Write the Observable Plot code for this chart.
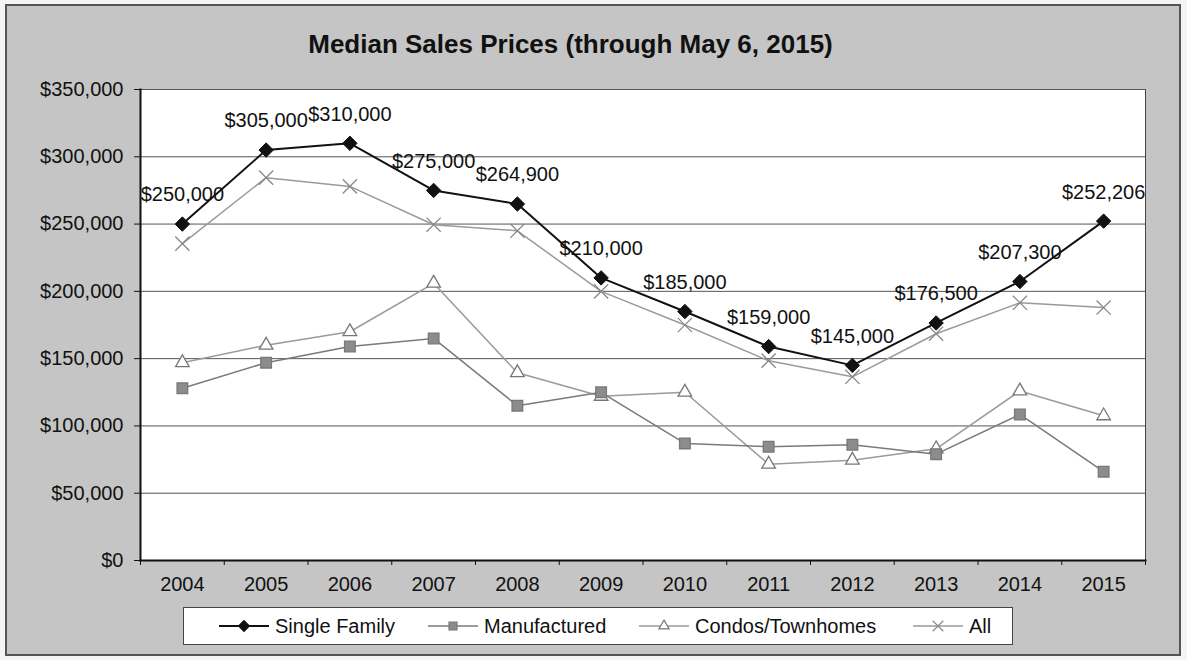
<!DOCTYPE html>
<html>
<head>
<meta charset="utf-8">
<script src="https://cdn.jsdelivr.net/npm/d3@7"></script>
<script src="https://cdn.jsdelivr.net/npm/@observablehq/plot@0.6"></script>
<style>
  html, body { margin: 0; padding: 0; background: #f4f4f4; }
  #chart { position: relative; width: 1187px; height: 660px; font-family: Arial, "Liberation Sans", sans-serif; color: #111; }
  #bg { position: absolute; left: 5px; top: 4px; width: 1176px; height: 652px; background: #c5c5c5; border: 2px solid #555; box-sizing: border-box; }
  #title { position: absolute; left: 0; top: 29px; width: 1141px; text-align: center; font-weight: bold; font-size: 26px; line-height: 30px; }
  #plot { position: absolute; left: 0; top: 70px; }
  #legend { position: absolute; left: 183px; top: 607px; width: 830px; height: 38px; background: #fff; border: 1px solid #444; box-sizing: border-box; }
  .item { position: absolute; top: 0; height: 36px; display: flex; align-items: center; font-size: 20px; }
  .item svg { margin-right: 6px; }
</style>
</head>
<body>
<div id="chart">
  <div id="bg"></div>
  <div id="title">Median Sales Prices (through May 6, 2015)</div>
  <div id="plot"></div>
  <div id="legend"></div>
</div>
<script>
const years = [2004, 2005, 2006, 2007, 2008, 2009, 2010, 2011, 2012, 2013, 2014, 2015];
const singleFamily = [250000, 305000, 310000, 275000, 264900, 210000, 185000, 159000, 145000, 176500, 207300, 252206];
const manufactured = [128000, 147000, 159000, 165000, 115000, 125000, 87000, 84500, 86000, 79000, 108500, 66000];
const condos = [147000, 160000, 170000, 206000, 139500, 122000, 125000, 71500, 74500, 83000, 126000, 107500];
const allHomes = [235500, 284500, 278000, 249500, 245000, 200000, 175000, 148500, 136500, 168500, 191500, 188000];
const seriesNames = ["Single Family", "Manufactured", "Condos/Townhomes", "All"];
const yTicks = [0, 50000, 100000, 150000, 200000, 250000, 300000, 350000];

const seriesValues = [singleFamily, manufactured, condos, allHomes];
const styles = {
  "Single Family": {stroke: "#111", width: 2, symbol: "diamond2", fill: "#111", mstroke: "#111", r: 6.5},
  "Manufactured": {stroke: "#7a7a7a", width: 1.5, symbol: "square", fill: "#8c8c8c", mstroke: "#777", r: 6},
  "Condos/Townhomes": {stroke: "#9a9a9a", width: 1.5, symbol: "triangle2", fill: "#fff", mstroke: "#777", r: 6.5},
  "All": {stroke: "#9a9a9a", width: 1.5, symbol: "times", fill: "none", mstroke: "#888", r: 6.5}
};
const data = seriesNames.flatMap((s, i) => years.map((y, j) => ({series: s, year: y, value: seriesValues[i][j]})));
const bounds = [years[0] - 0.5, ...years.map(y => y + 0.5)];
const money = d => "$" + d3.format(",")(d);

const drawOrder = ["Condos/Townhomes", "Manufactured", "All", "Single Family"];
const lineMarks = drawOrder.flatMap(s => {
  const st = styles[s];
  const rows = data.filter(d => d.series === s);
  return [
    Plot.line(rows, {x: "year", y: "value", stroke: st.stroke, strokeWidth: st.width}),
    Plot.dot(rows, {x: "year", y: "value", symbol: () => st.symbol, r: st.r, fill: st.fill, stroke: st.mstroke, strokeWidth: s === "Single Family" ? 1 : 1.3})
  ];
});

const chart = Plot.plot({
  width: 1187,
  height: 530,
  marginLeft: 140,
  marginRight: 42,
  marginTop: 19,
  marginBottom: 40,
  style: {background: "transparent", fontFamily: "Arial, 'Liberation Sans', sans-serif", fontSize: "20px", color: "#111", overflow: "visible"},
  x: {type: "linear", domain: [bounds[0], bounds[bounds.length - 1]]},
  y: {domain: [yTicks[0], yTicks[yTicks.length - 1]]},
  symbol: {type: "identity"},
  marks: [
    Plot.frame({fill: "#fff", stroke: "#444"}),
    Plot.gridY(yTicks, {stroke: "#555", strokeOpacity: 1}),
    Plot.axisY(yTicks, {tickFormat: money, tickSize: 6, tickPadding: 11, stroke: "#111", label: null, fill: "#111"}),
    Plot.axisX(years, {tickFormat: d => String(d), tickSize: 0, tickPadding: 16, label: null, fill: "#111"}),
    Plot.axisX(bounds, {tickFormat: () => "", tickSize: 5, stroke: "#111", label: null}),
    Plot.frame({anchor: "left", stroke: "#111", strokeWidth: 2}),
    Plot.frame({anchor: "bottom", stroke: "#111", strokeWidth: 2}),
    ...lineMarks,
    Plot.text(data.filter(d => d.series === "Single Family"), {x: "year", y: "value", text: d => money(d.value), dy: -29, fill: "#111", fontSize: 20})
  ]
});
document.getElementById("plot").appendChild(chart);

// Legend
const legend = document.getElementById("legend");
const itemLeft = [35, 244, 455, 729];
seriesNames.forEach((s, i) => {
  const st = styles[s];
  const div = document.createElement("div");
  div.className = "item";
  div.style.left = itemLeft[i] + "px";
  const svg = d3.create("svg").attr("width", 50).attr("height", 20);
  svg.append("line").attr("x1", 0).attr("x2", 50).attr("y1", 10).attr("y2", 10).attr("stroke", st.stroke).attr("stroke-width", st.width);
  const symMap = {diamond2: d3.symbolDiamond2, square: d3.symbolSquare, triangle2: d3.symbolTriangle2, times: d3.symbolTimes};
  svg.append("path").attr("transform", "translate(25,10)")
    .attr("d", d3.symbol(symMap[st.symbol], Math.PI * (st.r * 0.75) ** 2)())
    .attr("fill", st.fill).attr("stroke", st.mstroke).attr("stroke-width", 1.2);
  div.appendChild(svg.node());
  const span = document.createElement("span");
  span.textContent = s;
  div.appendChild(span);
  legend.appendChild(div);
});
</script>
</body>
</html>
